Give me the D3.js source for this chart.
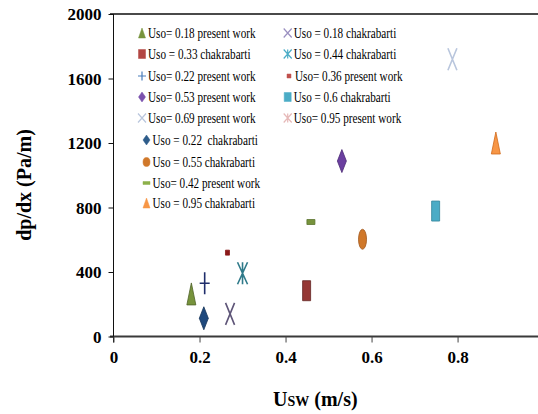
<!DOCTYPE html>
<html>
<head>
<meta charset="utf-8">
<script src="https://cdn.jsdelivr.net/npm/d3@7/dist/d3.min.js"></script>
<style>
  html, body { margin: 0; padding: 0; background: #fff; }
  svg { display: block; }
  svg text { font-family: "Liberation Serif", "Times New Roman", Times, "DejaVu Serif", serif !important; }
</style>
</head>
<body>
<svg id="chart" width="538" height="414"></svg>
<script>
// ---- data ----
const seriesLabels = [
  "Uso= 0.18 present work",
  "Uso = 0.33 chakrabarti",
  "Uso= 0.22 present work",
  "Uso= 0.53 present work",
  "Uso= 0.69 present work",
  "Uso = 0.22  chakrabarti",
  "Uso = 0.55 chakrabarti",
  "Uso= 0.42 present work",
  "Uso = 0.95 chakrabarti",
  "Uso = 0.18 chakrabarti",
  "Uso = 0.44 chakrabarti",
  "Uso= 0.36 present work",
  "Uso = 0.6 chakrabarti",
  "Uso= 0.95 present work"
];
const usw = [0.181, 0.449, 0.212, 0.531, 0.788, 0.210, 0.579, 0.459, 0.889, 0.271, 0.300, 0.265, 0.749, null];
const dpdx = [264, 284, 330, 1088, 1719, 113, 603, 710, 1200, 140, 392, 520, 778, null];
const xTicks = [0, 0.2, 0.4, 0.6, 0.8];
const xTickLabels = ["0", "0.2", "0.4", "0.6", "0.8"];
const yTicks = [0, 400, 800, 1200, 1600, 2000];
const yTickLabels = ["0", "400", "800", "1200", "1600", "2000"];

// ---- styles (marker shape, colours) ----
const styles = [
  {shape: "tri",     fill: "#77933C", stroke: "#4F6228", lfill: "#77933C"},
  {shape: "rect",    fill: "#953735", stroke: "#632523", lfill: "#B24643"},
  {shape: "plus",    fill: "none",    stroke: "#1F2D6B", lfill: "#4A7EBB"},
  {shape: "diamond", fill: "#6B3FA0", stroke: "#4B2A75", lfill: "#7B52AE"},
  {shape: "x",       fill: "none",    stroke: "#B9C6DD", lfill: "#B9C6DD"},
  {shape: "diamond", fill: "#1F497D", stroke: "#173559", lfill: "#2E5C8A"},
  {shape: "circle",  fill: "#D0782A", stroke: "#A0561A", lfill: "#D0782A"},
  {shape: "dash",    fill: "#77933C", stroke: "#5C7530", lfill: "#8DB04A"},
  {shape: "tri",     fill: "#F79646", stroke: "#D06A1A", lfill: "#F79646"},
  {shape: "x",       fill: "none",    stroke: "#5E5578", lfill: "#9A8FC0"},
  {shape: "star",    fill: "none",    stroke: "#2F7A8A", lfill: "#4BACC6"},
  {shape: "small",   fill: "#8B1A1A", stroke: "#8B1A1A", lfill: "#C0504D"},
  {shape: "rect",    fill: "#4BACC6", stroke: "#31849B", lfill: "#4BACC6"},
  {shape: "star",    fill: "none",    stroke: "#E6B9B8", lfill: "#E6B9B8"}
];

const FONT = '"Liberation Serif", "Times New Roman", Times, serif';
const svg = d3.select("#chart");
const x = d3.scaleLinear().domain([0, 0.987]).range([113.5, 538]);
const y = d3.scaleLinear().domain([0, 2000]).range([336.5, 14]);

function markerPath(shape, w, h) {
  const a = w / 2, b = h / 2;
  switch (shape) {
    case "tri": return `M0,${-b}L${a},${b}L${-a},${b}Z`;
    case "rect":
    case "small":
    case "dash": return `M${-a},${-b}H${a}V${b}H${-a}Z`;
    case "diamond": return `M0,${-b}L${a},0L0,${b}L${-a},0Z`;
    case "circle": return `M0,${-b}A${a},${b} 0 1,1 0,${b}A${a},${b} 0 1,1 0,${-b}Z`;
    case "plus": return `M0,${-b}V${b}M${-a},0H${a}`;
    case "x": return `M${-a},${-b}L${a},${b}M${a},${-b}L${-a},${b}`;
    case "star": return `M${-a},${-b}L${a},${b}M${a},${-b}L${-a},${b}M0,${-b}V${b}`;
  }
}
const plotSize = {
  tri: [9, 22], rect: [8, 20], small: [4, 5], dash: [8, 5], diamond: [9, 23],
  circle: [8, 20], plus: [10, 22], x: [9, 22], star: [10, 22]
};
const legSize = {
  tri: [7, 10], rect: [7, 9], small: [4, 4], dash: [7, 3], diamond: [7, 10],
  circle: [7, 9], plus: [8, 9], x: [8, 9], star: [8, 9]
};

// ---- axes ----
svg.append("line").attr("x1", 110).attr("x2", 538).attr("y1", y(2000)).attr("y2", y(2000))
  .attr("stroke", "#4a4a4a").attr("stroke-width", 2);
svg.append("line").attr("x1", 110).attr("x2", 538).attr("y1", y(0)).attr("y2", y(0))
  .attr("stroke", "#3a3a3a").attr("stroke-width", 2);
svg.append("line").attr("x1", x(0)).attr("x2", x(0)).attr("y1", y(2000)).attr("y2", y(0) + 6)
  .attr("stroke", "#111").attr("stroke-width", 1);

const yAxis = d3.axisLeft(y).tickValues(yTicks).tickSize(5).tickPadding(7)
  .tickFormat((d, i) => yTickLabels[i]);
const gy = svg.append("g").attr("transform", `translate(${x(0)},0)`).call(yAxis)
  .attr("font-family", FONT);
gy.select(".domain").remove();
gy.selectAll(".tick line").attr("stroke", "#111");
gy.selectAll(".tick text").attr("font-family", FONT).attr("font-size", 17)
  .attr("font-weight", "bold").attr("fill", "#000").attr("dy", "0.34em");

const xAxis = d3.axisBottom(x).tickValues(xTicks).tickSize(6).tickPadding(8)
  .tickFormat((d, i) => xTickLabels[i]);
const gx = svg.append("g").attr("transform", `translate(0,${y(0)})`).call(xAxis)
  .attr("font-family", FONT);
gx.select(".domain").remove();
gx.selectAll(".tick line").attr("stroke", "#444");
gx.selectAll(".tick text").attr("font-family", FONT).attr("font-size", 17)
  .attr("font-weight", "bold").attr("fill", "#000").attr("dy", "0.72em");

// axis titles
svg.append("text").attr("transform", "translate(31,185) rotate(-90)")
  .attr("font-family", FONT)
  .attr("text-anchor", "middle").attr("font-size", 20).attr("font-weight", "bold")
  .text("dp/dx (Pa/m)");
const xt = svg.append("text").attr("x", 273).attr("y", 406).attr("font-family", FONT)
  .attr("font-size", 20).attr("font-weight", "bold");
xt.append("tspan").text("U");
xt.append("tspan").attr("font-size", 14).text("SW");
xt.append("tspan").text(" (m/s)");

// ---- points ----
const pts = seriesLabels.map((l, i) => ({label: l, u: usw[i], v: dpdx[i], s: styles[i]}))
  .filter(d => d.u !== null);
svg.append("g").selectAll("path").data(pts).join("path")
  .attr("transform", d => `translate(${x(d.u)},${y(d.v)})`)
  .attr("d", d => markerPath(d.s.shape, ...plotSize[d.s.shape]))
  .attr("fill", d => d.s.fill)
  .attr("stroke", d => d.s.stroke)
  .attr("stroke-width", d => (d.s.fill === "none" ? 1.6 : 0.8));

// ---- legend ----
const legRowsY = [33, 54, 76, 97, 118, 140, 162, 183, 203];
const legend = seriesLabels.map((l, i) => {
  const col = i < 9 ? 0 : 1;
  const row = col === 0 ? i : i - 9;
  const mx = col === 0 ? (row >= 5 ? 146.5 : 142) : (i === 11 ? 289 : 287.7);
  return {label: l, s: styles[i], mx, tx: mx + 6, y: legRowsY[row]};
});
const lg = svg.append("g");
lg.selectAll("path").data(legend).join("path")
  .attr("transform", d => `translate(${d.mx},${d.y})`)
  .attr("d", d => markerPath(d.s.shape, ...legSize[d.s.shape]))
  .attr("fill", d => (d.s.fill === "none" ? "none" : d.s.lfill))
  .attr("stroke", d => d.s.lfill)
  .attr("stroke-width", d => (d.s.fill === "none" ? 1.2 : 0.5));
lg.selectAll("text").data(legend).join("text")
  .attr("transform", d => `translate(${d.tx},${d.y + 4.8}) scale(0.8,1)`)
  .attr("font-family", FONT)
  .attr("font-size", 14).attr("fill", "#000")
  .attr("xml:space", "preserve")
  .text(d => d.label);
</script>
</body>
</html>
